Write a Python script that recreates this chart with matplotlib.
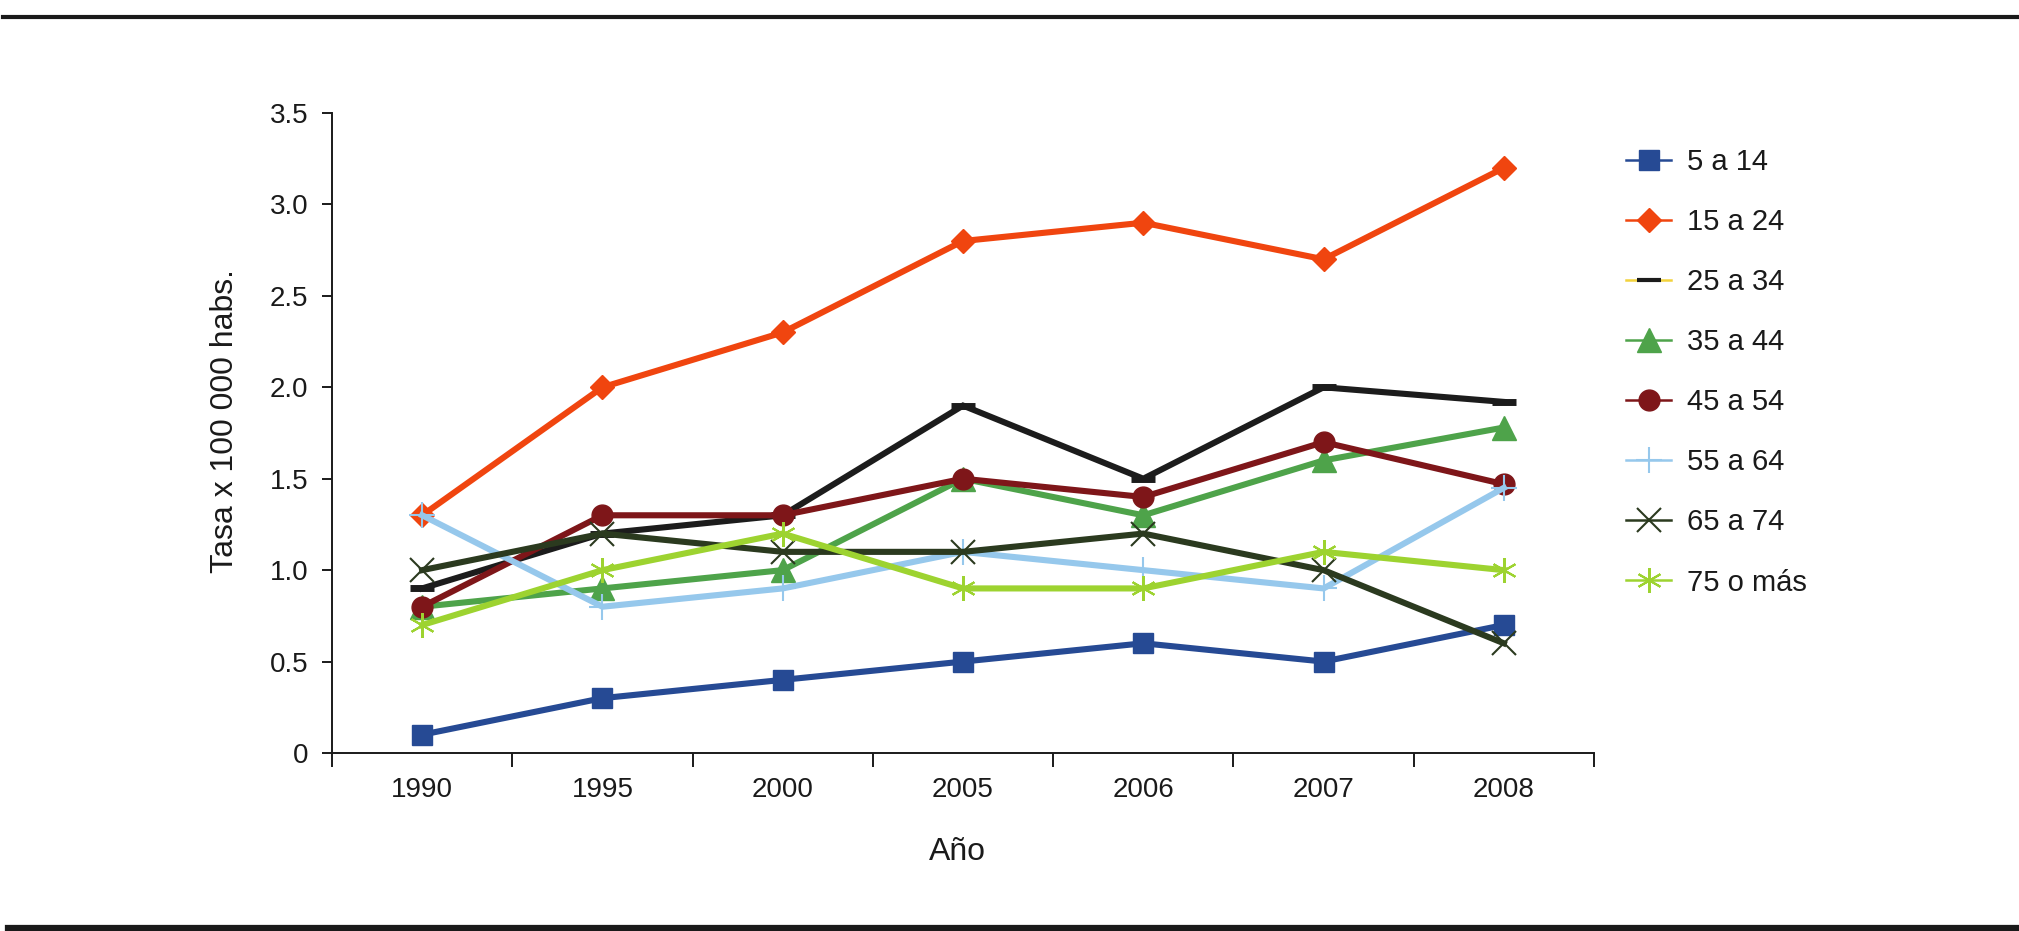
import matplotlib
matplotlib.use("Agg")
import matplotlib.pyplot as plt
from matplotlib.lines import Line2D
from matplotlib.ticker import FixedLocator, FixedFormatter

plt.rcParams['font.family'] = ['Liberation Sans', 'DejaVu Sans']

years = ['1990', '1995', '2000', '2005', '2006', '2007', '2008']
labels = ['5 a 14', '15 a 24', '25 a 34', '35 a 44', '45 a 54', '55 a 64', '65 a 74', '75 o más']

s_5_14 = [0.1, 0.3, 0.4, 0.5, 0.6, 0.5, 0.7]
s_15_24 = [1.3, 2.0, 2.3, 2.8, 2.9, 2.7, 3.2]
s_25_34 = [0.9, 1.2, 1.3, 1.9, 1.5, 2.0, 1.92]
s_35_44 = [0.8, 0.9, 1.0, 1.5, 1.3, 1.6, 1.78]
s_45_54 = [0.8, 1.3, 1.3, 1.5, 1.4, 1.7, 1.47]
s_55_64 = [1.3, 0.8, 0.9, 1.1, 1.0, 0.9, 1.45]
s_65_74 = [1.0, 1.2, 1.1, 1.1, 1.2, 1.0, 0.6]
s_75 = [0.7, 1.0, 1.2, 0.9, 0.9, 1.1, 1.0]

y_ticks = [0, 0.5, 1.0, 1.5, 2.0, 2.5, 3.0, 3.5]
y_ticklabels = ['0', '0.5', '1.0', '1.5', '2.0', '2.5', '3.0', '3.5']

series = [s_5_14, s_15_24, s_25_34, s_35_44, s_45_54, s_55_64, s_65_74, s_75]

styles = [
    dict(color='#264a94', marker='s', ms=15, mfc='#264a94', mec='#264a94', mew=1),
    dict(color='#f0450f', marker='D', ms=12, mfc='#f0450f', mec='#f0450f', mew=1),
    dict(color='#1c1c1c', marker='_', ms=17, mfc='#1c1c1c', mec='#1c1c1c', mew=5),
    dict(color='#4ea34a', marker='^', ms=17, mfc='#4ea34a', mec='#4ea34a', mew=1),
    dict(color='#7e1619', marker='o', ms=15, mfc='#7e1619', mec='#7e1619', mew=1),
    dict(color='#96c8ec', marker='+', ms=19, mfc='#96c8ec', mec='#96c8ec', mew=1.5),
    dict(color='#2b3a1f', marker='x', ms=17, mfc='#2b3a1f', mec='#2b3a1f', mew=1.5),
    dict(color='#9dd330', marker=(6, 2, 0), ms=18, mfc='#9dd330', mec='#9dd330', mew=1.5),
]

W, H = 2019, 931
fig = plt.figure(figsize=(W / 100, H / 100), dpi=100)
ax = fig.add_axes([332 / W, 1 - 753 / H, (1594 - 332) / W, (753 - 113) / H])

x = list(range(len(years)))
for vals, st in zip(series, styles):
    ax.plot(x, vals, color=st['color'], lw=4.4, marker=st['marker'], ms=st['ms'],
            mfc=st['mfc'], mec=st['mec'], mew=st['mew'], solid_joinstyle='miter')

ax.set_xlim(-0.5, len(years) - 0.5)
ax.set_ylim(0, 3.5)

for sp in ['top', 'right']:
    ax.spines[sp].set_visible(False)
for sp in ['left', 'bottom']:
    ax.spines[sp].set_linewidth(1.4)
    ax.spines[sp].set_color('#1a1a1a')

ax.set_xticks(x)
ax.set_xticklabels(years)
ax.xaxis.set_minor_locator(FixedLocator([i - 0.5 for i in range(len(years) + 1)]))
ax.tick_params(axis='x', which='major', length=0, pad=17, labelsize=20, colors='#1a1a1a')
ax.tick_params(axis='x', which='minor', length=10, width=1.4, direction='out', color='#1a1a1a')

ax.yaxis.set_major_locator(FixedLocator(y_ticks))
ax.yaxis.set_major_formatter(FixedFormatter(y_ticklabels))
ax.tick_params(axis='y', which='major', length=7, width=1.4, direction='out', pad=10,
               labelsize=20, colors='#1a1a1a')

fig.text(225 / W, 1 - 421 / H, 'Tasa x 100 000 habs.', rotation=90, ha='center', va='center',
         fontsize=23, color='#1a1a1a')
fig.text(957 / W, 1 - 860 / H, 'Año', ha='center', va='baseline', fontsize=23, color='#1a1a1a')

legend_line_colors = ['#264a94', '#f0450f', '#f2d23c', '#4ea34a', '#7e1619', '#96c8ec', '#2b3a1f', '#9dd330']
handles = []
for st, lc in zip(styles, legend_line_colors):
    mew = st['mew'] if st['marker'] != '_' else 3
    handles.append(Line2D([0], [0], color=lc, lw=1.8, marker=st['marker'], ms=st['ms'],
                          mfc=st['mfc'], mec=st['mec'], mew=mew))

fig.legend(handles, labels, loc='upper left', bbox_to_anchor=(1626 / W, 1 - 148 / H),
           frameon=False, fontsize=21, handlelength=1.55, handletextpad=0.55,
           labelspacing=1.10, borderpad=0, borderaxespad=0, labelcolor='#1a1a1a')

fig.add_artist(Line2D([3 / W, 1], [1 - 17 / H, 1 - 17 / H], transform=fig.transFigure,
                      color='#1a1a1a', lw=3))
fig.add_artist(Line2D([8 / W, 1], [1 - 928 / H, 1 - 928 / H], transform=fig.transFigure,
                      color='#1a1a1a', lw=4.5))

fig.savefig('out.png', dpi=100)
